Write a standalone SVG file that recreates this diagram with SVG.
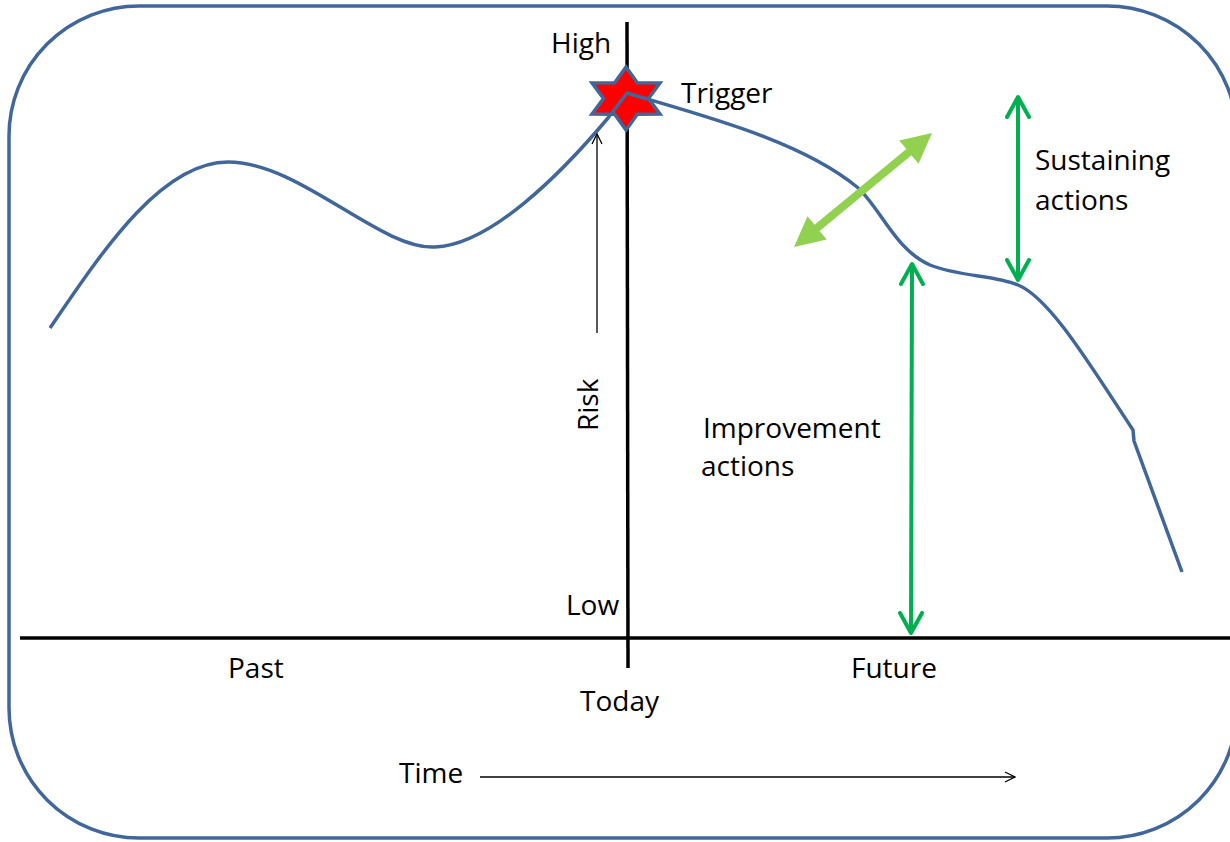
<svg xmlns="http://www.w3.org/2000/svg" width="1230" height="842" viewBox="0 0 1230 842">
<style>
text{font-family:"Open Sans","Liberation Sans",sans-serif;font-size:28px;fill:#000}
.curve{fill:none;stroke:#41679a;stroke-width:3.5;stroke-linejoin:round}
.axis{stroke:#000;stroke-width:3.5;fill:none}
.thin{stroke:#000;stroke-width:1.3;fill:none}
.green{stroke:#00b050;stroke-width:4;fill:none}
</style>
<defs>
<marker id="openThin" viewBox="0 0 12 12" refX="11" refY="6" markerWidth="12" markerHeight="12" markerUnits="userSpaceOnUse" orient="auto-start-reverse">
<path d="M1,1 L11,6 L1,11" fill="none" stroke="#000" stroke-width="1.3"/>
</marker>
<marker id="openGreen" viewBox="0 0 26 26" refX="22" refY="13" markerWidth="26" markerHeight="26" markerUnits="userSpaceOnUse" orient="auto-start-reverse">
<path d="M2,2 L22,13 L2,24" fill="none" stroke="#00b050" stroke-width="4" stroke-linecap="round" stroke-linejoin="round"/>
</marker>
</defs>
<rect id="frame" x="9" y="6" width="1228" height="832" rx="130" ry="130" fill="#fff" stroke="#41679a" stroke-width="3.5"/>
<g id="axes">
<line class="axis" x1="20" y1="638" x2="1230" y2="638"/>
<line class="axis" x1="627" y1="22" x2="628" y2="668"/>
</g>
<g id="star">
<polygon points="626,67 637.3,82.7 660,83 648.5,98.5 660,114 637.3,114.3 626,130 614.7,114.3 592,114 603.5,98.5 592,83 614.7,82.7" fill="#ff0000" stroke="#41679a" stroke-width="3.5" stroke-linejoin="miter"/>
</g>
<g id="risk-curve">
<path class="curve" d="M50,328 C100,255 160,162 228,162 C300,162 380,250 435,247 C490,245 560,175 608,118 L627,93 C700,115 800,140 857,187 C880,207 895,250 930,265 C960,277 995,275 1018,285 C1050,298 1090,365 1133,430 L1134,441 L1182,572"/>
</g>
<g id="connectors">
<line class="thin" x1="597" y1="333" x2="597" y2="134" marker-end="url(#openThin)"/>
<line class="thin" x1="480" y1="777" x2="1015" y2="777" marker-end="url(#openThin)"/>
<line class="green" x1="912" y1="264" x2="911" y2="633" marker-start="url(#openGreen)" marker-end="url(#openGreen)"/>
<line class="green" x1="1018" y1="97" x2="1018" y2="280" marker-start="url(#openGreen)" marker-end="url(#openGreen)"/>
<polygon id="double-arrow" fill="#92d050" points="794,247 826.7,239.5 819.6,231 911.4,155.2 918.5,163.7 932,133 899.3,140.5 906.4,149 814.6,224.8 807.5,216.3"/>
</g>
<g id="labels">
<text x="551" y="53">High</text>
<text x="681" y="103">Trigger</text>
<text x="1035" y="170">Sustaining</text>
<text x="1035" y="210">actions</text>
<text x="703" y="438">Improvement</text>
<text x="701" y="476">actions</text>
<text x="566" y="615">Low</text>
<text x="228" y="678">Past</text>
<text x="580" y="711">Today</text>
<text x="851" y="678">Future</text>
<text x="399" y="783">Time</text>
<text transform="translate(598,431) rotate(-90)">Risk</text>
</g>
</svg>
